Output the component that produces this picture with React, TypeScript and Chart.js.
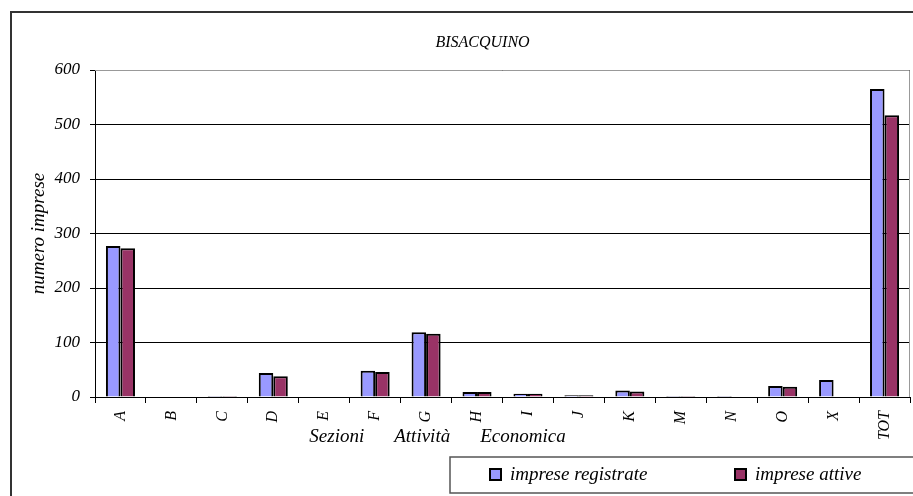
import React, { useEffect, useRef } from "react";
import { Chart, registerables } from "chart.js";

Chart.register(...registerables);

const categories = ["A", "B", "C", "D", "E", "F", "G", "H", "I", "J", "K", "M", "N", "O", "X", "TOT"];
const impreseRegistrate = [277, 0, 2, 44, 0, 48, 119, 9, 6, 3, 12, 2, 2, 20, 31, 565];
const impreseAttive = [273, 0, 2, 38, 0, 46, 116, 9, 6, 3, 10, 2, 1, 19, 0, 517];
const yTicks = [0, 100, 200, 300, 400, 500, 600];
const chartTitle = "BISACQUINO";
const xTitleWords = ["Sezioni", "Attività", "Economica"];
const yTitle = "numero imprese";

const FONT = "'Liberation Serif', 'Times New Roman', serif";

const decorPlugin = {
  id: "decor",
  beforeDraw(chart: any) {
    const ctx = chart.ctx;
    ctx.save();
    ctx.fillStyle = "#fff";
    ctx.fillRect(0, 0, chart.width, chart.height);
    // outer frame
    ctx.strokeStyle = "#333";
    ctx.lineWidth = 2;
    ctx.beginPath();
    ctx.moveTo(11, chart.height + 2);
    ctx.lineTo(11, 12);
    ctx.lineTo(chart.width + 2, 12);
    ctx.stroke();
    ctx.restore();
  },
  afterDraw(chart: any) {
    const ctx = chart.ctx;
    const a = chart.chartArea;
    ctx.save();
    // plot border (top & right)
    ctx.strokeStyle = "#999";
    ctx.lineWidth = 1;
    ctx.beginPath();
    ctx.moveTo(a.left, a.top + 0.5);
    ctx.lineTo(a.right - 0.5, a.top + 0.5);
    ctx.lineTo(a.right - 0.5, a.bottom);
    ctx.stroke();

    // title
    ctx.fillStyle = "#000";
    ctx.font = `italic 16px ${FONT}`;
    ctx.textAlign = "center";
    ctx.textBaseline = "middle";
    ctx.fillText(chartTitle, (a.left + a.right) / 2 - 20, 43);

    // x axis title
    ctx.font = `italic 19px ${FONT}`;
    ctx.textAlign = "left";
    const gap = 30;
    const widths = xTitleWords.map((w) => ctx.measureText(w).width);
    const total = widths.reduce((s, w) => s + w, 0) + gap * (xTitleWords.length - 1);
    let x = (a.left + a.right) / 2 - 65 - total / 2;
    xTitleWords.forEach((w, i) => {
      ctx.fillText(w, x, a.bottom + 40);
      x += widths[i] + gap;
    });

    // legend box
    const lx = 450, ly = 457, lh = 36;
    ctx.strokeStyle = "#555";
    ctx.lineWidth = 1.5;
    ctx.strokeRect(lx, ly, chart.width - lx + 5, lh);
    const items = chart.data.datasets;
    const itemX = [490, 735];
    ctx.font = `italic 19px ${FONT}`;
    items.forEach((ds: any, i: number) => {
      const sx = itemX[i];
      const cy = ly + lh / 2;
      ctx.fillStyle = ds.backgroundColor;
      ctx.fillRect(sx, cy - 6, 11, 11);
      ctx.strokeStyle = "#000";
      ctx.lineWidth = 2;
      ctx.strokeRect(sx, cy - 6, 11, 11);
      ctx.fillStyle = "#000";
      ctx.textAlign = "left";
      ctx.fillText(ds.label, sx + 20, cy);
    });
    ctx.restore();
  },
};

export default function App() {
  const ref = useRef<HTMLCanvasElement>(null);

  useEffect(() => {
    if (!ref.current) return;
    const chart = new Chart(ref.current, {
      type: "bar",
      data: {
        labels: categories,
        datasets: [
          {
            label: "imprese registrate",
            data: impreseRegistrate,
            backgroundColor: "#9999FF",
            borderColor: "#000",
            borderWidth: 2,
            categoryPercentage: 0.57,
            barPercentage: 1.0,
          },
          {
            label: "imprese attive",
            data: impreseAttive,
            backgroundColor: "#993366",
            borderColor: "#000",
            borderWidth: 2,
            categoryPercentage: 0.57,
            barPercentage: 1.0,
          },
        ],
      },
      options: {
        animation: false,
        responsive: false,
        maintainAspectRatio: false,
        layout: { padding: { top: 70, left: 0, right: 3, bottom: 0 } },
        plugins: {
          legend: { display: false },
          title: { display: false },
          tooltip: { enabled: false },
        },
        scales: {
          x: {
            afterFit: (scale: any) => {
              scale.height = 99;
            },
            grid: {
              drawOnChartArea: false,
              drawTicks: true,
              tickLength: 6,
              color: "#000",
              offset: true,
            },
            border: { color: "#000", width: 1 },
            ticks: {
              color: "#000",
              font: { family: FONT, style: "italic", size: 16 },
              minRotation: 90,
              maxRotation: 90,
              padding: 8,
              autoSkip: false,
            },
          },
          y: {
            min: 0,
            max: 600,
            afterFit: (scale: any) => {
              scale.width = 95;
            },
            afterBuildTicks: (scale: any) => {
              scale.ticks = yTicks.map((v) => ({ value: v }));
            },
            grid: {
              color: "#000",
              lineWidth: 1,
              tickLength: 5,
              drawTicks: true,
            },
            border: { color: "#000", width: 1 },
            ticks: {
              color: "#000",
              font: { family: FONT, style: "italic", size: 17 },
              padding: 10,
            },
            title: {
              display: true,
              text: yTitle,
              color: "#000",
              font: { family: FONT, style: "italic", size: 19 },
              padding: { top: 28, bottom: 0 },
            },
          },
        },
      },
      plugins: [decorPlugin],
    });
    return () => chart.destroy();
  }, []);

  return (
    <div style={{ position: "fixed", left: 0, top: 0, width: 913, height: 496, background: "#fff" }}>
      <canvas ref={ref} width={913} height={496} style={{ display: "block", width: 913, height: 496 }} />
    </div>
  );
}
